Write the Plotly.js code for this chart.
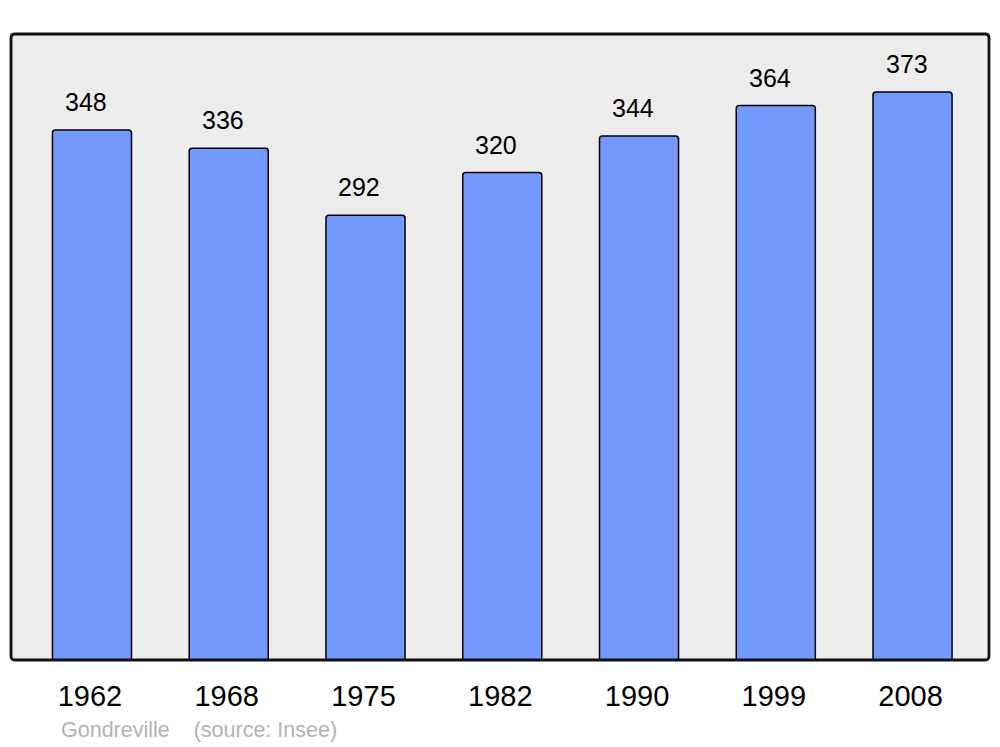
<!DOCTYPE html>
<html>
<head>
<meta charset="utf-8">
<script src="https://cdn.plot.ly/plotly-3.0.1.min.js"></script>
<style>html,body{margin:0;padding:0;background:#fff;}#chart{width:1000px;height:747px;}</style>
</head>
<body>
<div id="chart"></div>
<script>
const years = ["1962", "1968", "1975", "1982", "1990", "1999", "2008"];
const population = [348, 336, 292, 320, 344, 364, 373];
const footerText = "Gondreville    (source: Insee)";

const xIdx = years.map((_, i) => i);

const trace = {
  type: "bar",
  x: xIdx,
  y: population,
  width: 0.578,
  marker: {
    color: "#7399ff",
    line: {color: "#000", width: 1.5},
    cornerradius: 3
  },
  hoverinfo: "skip"
};

const annotations = population.map((v, i) => ({
  x: i, y: v, xref: "x", yref: "y",
  text: String(v), showarrow: false,
  yanchor: "middle", yshift: 28, xshift: -6,
  font: {family: "Liberation Sans, Arial, sans-serif", size: 25, color: "#000"}
}));
annotations.push({
  x: 0.0489, y: -0.1118, xref: "paper", yref: "paper",
  xanchor: "left", yanchor: "middle", showarrow: false,
  text: footerText.replace(/ /g, "&nbsp;"),
  font: {family: "Liberation Sans, Arial, sans-serif", size: 21.5, color: "#b3b3b3"}
});

// rounded plot-area frame
const rx = 4 / 978, ry = 4 / 626;
const framePath = `M ${rx},0 L ${1 - rx},0 Q 1,0 1,${ry} L 1,${1 - ry} Q 1,1 ${1 - rx},1 L ${rx},1 Q 0,1 0,${1 - ry} L 0,${ry} Q 0,0 ${rx},0 Z`;

const layout = {
  width: 1000, height: 747,
  margin: {l: 11, r: 11, t: 34, b: 87, pad: 0},
  paper_bgcolor: "#fff",
  plot_bgcolor: "rgba(0,0,0,0)",
  showlegend: false,
  xaxis: {
    range: [-0.592, 6.559],
    tickvals: xIdx, ticktext: years,
    ticks: "", showgrid: false, zeroline: false, showline: false,
    tickfont: {family: "Liberation Sans, Arial, sans-serif", size: 29, color: "#000"},
    ticklabelstandoff: 16,
    ticklabelshift: -2
  },
  yaxis: {
    range: [0, 411],
    showticklabels: false, ticks: "", showgrid: false, zeroline: false, showline: false
  },
  shapes: [{
    type: "path", xref: "paper", yref: "paper", path: framePath,
    fillcolor: "#ececec", line: {width: 0}, layer: "below"
  }, {
    type: "path", xref: "paper", yref: "paper", path: framePath,
    line: {color: "#111", width: 2.8}, layer: "above"
  }],
  annotations: annotations
};

Plotly.newPlot("chart", [trace], layout, {staticPlot: true, displayModeBar: false});
</script>
</body>
</html>
